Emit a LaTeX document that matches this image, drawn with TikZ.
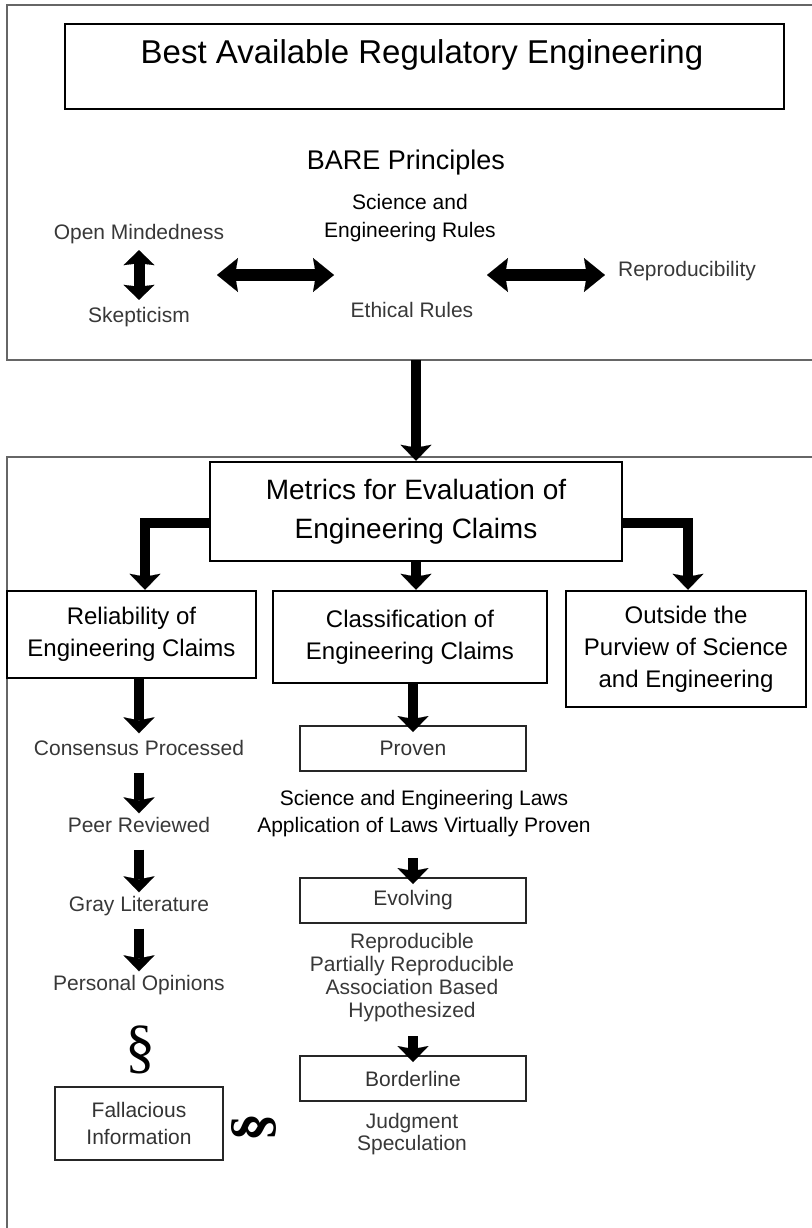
\documentclass[tikz,border=0pt]{standalone}
\usepackage{fontspec}
\setmainfont{Liberation Sans}
\newfontfamily\paraserif{Liberation Serif}
\usetikzlibrary{arrows.meta,positioning}

\begin{document}
\begin{tikzpicture}[x=1pt,y=-1pt,line join=miter]
\tikzstyle{every node}=[inner sep=0pt]
\tikzstyle{frame}=[draw=black!60,line width=1.5pt]
\tikzstyle{bigbox}=[draw,line width=2.5pt,align=center,font=\fontsize{24}{32}\selectfont]
\tikzstyle{stepbox}=[draw=black!85,line width=2pt,minimum width=226pt,minimum height=45pt,
                     align=center,text=black!80,font=\fontsize{21}{27}\selectfont]
\tikzstyle{note}=[align=center,font=\fontsize{21}{27}\selectfont]
\tikzstyle{item}=[text=black!78,font=\fontsize{21}{23}\selectfont,text height=15pt,text depth=4pt]
\tikzstyle{fat}=[line width=10pt,-{Stealth[length=16pt,width=31pt,inset=3pt,line width=0.1pt]}]
\tikzstyle{twoway}=[line width=12pt,{Stealth[length=21pt,width=34pt,inset=3pt,line width=0.1pt]}-{Stealth[length=21pt,width=34pt,inset=3pt,line width=0.1pt]}]
\useasboundingbox (0,0) rectangle (811,1228);

% outer frames
\draw[frame] (7,5) rectangle (830,360);
\draw[frame] (7,457) rectangle (830,1240);

% BARE part
\node[draw,line width=2pt,minimum width=719pt,minimum height=85pt] (title) at (424.5,66.5) {};
\node[font=\fontsize{33}{38}\selectfont] (titletext) at (422,55) {Best Available Regulatory Engineering};
\node[font=\fontsize{27}{32}\selectfont] (bare) at (406,163) {BARE Principles};
\node[note,font=\fontsize{21}{28}\selectfont] (serules) at (410,218) {Science and\\Engineering Rules};
\node[item] (openmind) at (139,234) {Open Mindedness};
\node[item] (skep) at (139,317) {Skepticism};
\node[item] (ethic) at (412,312) {Ethical Rules};
\node[item] (repro) at (687,271) {Reproducibility};
\coordinate (lh1) at (217,275);
\coordinate (lh2) at (334,275);
\coordinate (rh1) at (487,275);

\draw[line width=11pt,{Stealth[length=15pt,width=31pt,inset=2pt,line width=0.1pt]}-{Stealth[length=15pt,width=31pt,inset=2pt,line width=0.1pt]},
      shorten <=6.5pt,shorten >=7.5pt] (openmind) -- (skep);
\draw[twoway] (lh1) -- (lh2);
\draw[twoway,shorten >=13pt] (rh1) -- (repro.west |- rh1);

% metrics part
\coordinate (topexit) at (416,360);
\node[bigbox,font=\fontsize{28}{39}\selectfont,minimum width=412pt,minimum height=99pt] (metrics) at (416,511.5)
  {Metrics for Evaluation of\\Engineering Claims};
\node[bigbox,minimum width=249pt,minimum height=87pt] (reliab) at (131.5,634.5) {Reliability of\\Engineering Claims};
\node[bigbox,minimum width=274pt,minimum height=92pt] (classif) at (410,637) {Classification of\\Engineering Claims};
\node[bigbox,minimum width=240pt,minimum height=116pt] (outside) at (686,649) {Outside the\\Purview of Science\\and Engineering};

\draw[fat] (topexit) -- (metrics.north);
\draw[fat] ([yshift=-11.5pt]metrics.west) -| ([xshift=13.5pt]reliab.north);
\draw[fat] ([yshift=-11.5pt]metrics.east) -| ([xshift=2pt]outside.north);
\draw[fat] (metrics.south) -- (metrics.south |- classif.north);

% reliability ladder
\node[item] (consensus) at (139,750) {Consensus Processed};
\node[item] (peer) at (139,827) {Peer Reviewed};
\node[item] (gray) at (139,906) {Gray Literature};
\node[item] (personal) at (139,985) {Personal Opinions};
\node[font=\paraserif\fontsize{60}{60}\selectfont] (para) at (140,1050) {\S};
\node[stepbox,minimum width=168pt,minimum height=73pt] (fallac) at (139,1123.5) {Fallacious\\Information};
\node[font=\paraserif\bfseries\fontsize{56}{56}\selectfont,rotate=90] (sidepara) at (254,1127) {\S};

\draw[fat,shorten >=7pt] (reliab.south -| consensus) -- (consensus.north);
\foreach \a/\b in {consensus/peer,peer/gray,gray/personal}
  \draw[fat,shorten <=13pt,shorten >=4pt] (\a) -- (\b);

% classification ladder
\node[stepbox] (proven) at (413,748.5) {Proven};
\node[note] (laws) at (424,813.5) {Science and Engineering Laws\\Application of Laws Virtually Proven};
\node[stepbox] (evolving) at (413,900.5) {Evolving};
\node[note,text=black!78,font=\fontsize{21}{23}\selectfont] (evtext) at (412,977.5)
  {Reproducible\\Partially Reproducible\\Association Based\\Hypothesized};
\node[stepbox] (border) at (413,1078.5) {Borderline};
\node[note,text=black!78,font=\fontsize{21}{22}\selectfont] (bltext) at (412,1134) {Judgment\\Speculation};

\draw[fat,shorten >=-7pt] (classif.south -| proven) -- (proven.north);
\draw[fat,shorten <=21pt,shorten >=-7pt] (laws.south -| evolving) -- (evolving.north);
\draw[fat,shorten <=14pt,shorten >=-7pt] (evtext.south -| border) -- (border.north);
\end{tikzpicture}
\end{document}
